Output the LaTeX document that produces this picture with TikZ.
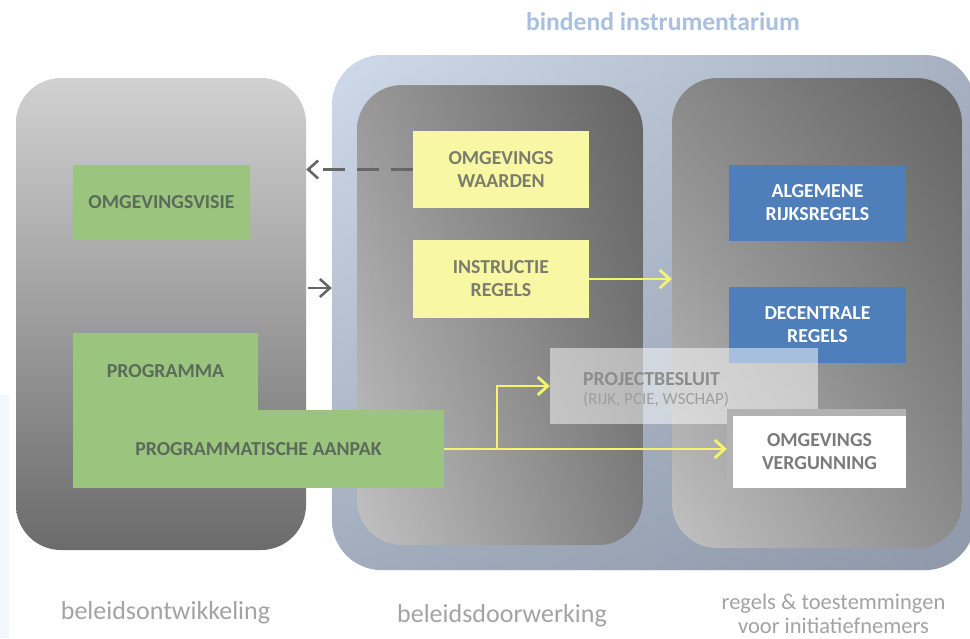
\documentclass[tikz,border=0pt]{standalone}
\usepackage{fontspec}
\setmainfont{Carlito}
\usetikzlibrary{arrows.meta,fadings}
\definecolor{lgreen}{HTML}{9BC47F}
\definecolor{gtext}{HTML}{5B6B5A}
\definecolor{lyellow}{HTML}{F8F7A4}
\definecolor{ytext}{HTML}{7C7C6C}
\definecolor{lblue}{HTML}{4F7FBA}
\definecolor{ylarrow}{HTML}{F5F56C}
\definecolor{grarrow}{HTML}{666666}
\definecolor{titleblue}{HTML}{A9C1DF}
\definecolor{labgray}{HTML}{A3A3A3}
\definecolor{faintblue}{HTML}{F2F7FB}
\definecolor{bluel}{HTML}{CFDBEA}
\definecolor{bluer}{HTML}{A6B0C0}
\definecolor{bluebot}{HTML}{7C8698}
\tikzfading[name=fadeR, left color=transparent!100, right color=transparent!0]
\tikzfading[name=fadeD, top color=transparent!100, bottom color=transparent!0]
\tikzset{
  box/.style={draw=none, inner sep=0pt, align=center, font=\fontsize{19.8}{23}\selectfont\bfseries},
  greenbox/.style={box, fill=lgreen, text=gtext},
  yellowbox/.style={box, fill=lyellow, text=ytext},
  bluebox/.style={box, fill=lblue, text=white},
  panel/.style={draw=none, inner sep=0pt, rounded corners=45pt},
  grayarrow/.style={draw=grarrow, line width=2.6pt, -{Straight Barb[length=10pt,width=18pt]}},
  yellowarrow/.style={draw=ylarrow, line width=2.8pt, -{Straight Barb[length=10pt,width=18pt]}},
  lab/.style={text=labgray, align=center, font=\fontsize{26}{26}\selectfont}
}
\begin{document}
\begin{tikzpicture}[x=1pt,y=-1pt]
\useasboundingbox (0,0) rectangle (970,638);
\fill[white] (0,0) rectangle (970,638);
\fill[faintblue] (0,395) rectangle (9,638);

% title
\node[text=titleblue, font=\fontsize{25.6}{26}\selectfont\bfseries] (title) at (663,22) {bindend instrumentarium};

% left panel
\node[panel, minimum width=290pt, minimum height=472pt, top color=black!18, bottom color=black!58] (lp) at (161,314) {};

% outer blue panel
\begin{scope}
\clip (0,0) rectangle (970,638);
\node[panel, rounded corners=50pt, minimum width=643pt, minimum height=515pt, left color=bluel, right color=bluer] (bp) at (653.5,312.5) {};
\fill[bluebot, path fading=fadeD, opacity=0.55, rounded corners=50pt] (332,55) rectangle (975,570);
\end{scope}

% middle panel
\node[panel, minimum width=286pt, minimum height=460pt, top color=black!40, bottom color=black!24] (mp) at (500,315) {};
\fill[black, path fading=fadeR, opacity=0.35, rounded corners=45pt] (357,85) rectangle (643,545);

% right panel
\node[panel, minimum width=290pt, minimum height=470pt, top color=black!46, bottom color=black!24] (rp) at (817,313) {};
\fill[black, path fading=fadeR, opacity=0.28, rounded corners=45pt] (672,78) rectangle (962,548);

% green boxes
\node[greenbox, minimum width=177pt, minimum height=75pt] (ov) at (161.5,202.5) {OMGEVINGSVISIE};
\node[greenbox, minimum width=185pt, minimum height=78pt] (pg) at (165.5,371.5) {PROGRAMMA};
\node[greenbox, minimum width=371pt, minimum height=78pt] (pa) at (258.5,449) {PROGRAMMATISCHE AANPAK};

% yellow boxes
\node[yellowbox, minimum width=176pt, minimum height=77pt] (ow) at (501,169.5) {OMGEVINGS\\WAARDEN};
\node[yellowbox, minimum width=176pt, minimum height=78pt] (ir) at (501,279) {INSTRUCTIE\\REGELS};

% blue boxes
\node[bluebox, minimum width=177pt, minimum height=76pt] (ar) at (817.5,203) {ALGEMENE\\RIJKSREGELS};
\node[bluebox, minimum width=177pt, minimum height=76pt] (dr) at (817.5,325) {DECENTRALE\\REGELS};

% projectbesluit
\node[fill=white, fill opacity=0.5, text opacity=1, inner sep=0pt, minimum width=268pt, minimum height=76pt] (pb) at (684,386) {};
\node[anchor=west, inner sep=0pt, align=left, text=black!45, font=\fontsize{19.8}{23}\selectfont\bfseries] (pbt) at (583,379) {PROJECTBESLUIT};
\node[anchor=west, inner sep=0pt, align=left, text=black!38, font=\fontsize{17}{19}\selectfont] (pbs) at (583,399) {(RIJK, PCIE, WSCHAP)};

% omgevingsvergunning
\node[fill=black!30, inner sep=0pt, minimum width=179pt, minimum height=79pt] (vgs) at (816.5,448.5) {};
\node[box, fill=white, text=black!52, minimum width=173pt, minimum height=72pt] (vg) at (819.5,452) {OMGEVINGS\\VERGUNNING};

% arrows
\draw[grayarrow, dash pattern=on 22pt off 12pt] (ow.west) -- (lp.east |- ow.west);
\coordinate (a1) at (308,288);
\draw[grayarrow] (a1) -- (bp.west |- a1);
\draw[yellowarrow] (ir.east) -- (rp.west |- ir.east);
\draw[yellowarrow] (pa.east) -- (vgs.west |- pa.east);
\coordinate (br) at (497,449);
\draw[yellowarrow] (br) |- (pb.west);

% bottom labels
\node[lab] (l1) at (165.5,613) {beleidsontwikkeling};
\node[lab] (l2) at (502,616) {beleidsdoorwerking};
\node[lab, font=\fontsize{22.5}{24}\selectfont] (l3) at (833.5,614) {regels \& toestemmingen\\voor initiatiefnemers};
\end{tikzpicture}
\end{document}
